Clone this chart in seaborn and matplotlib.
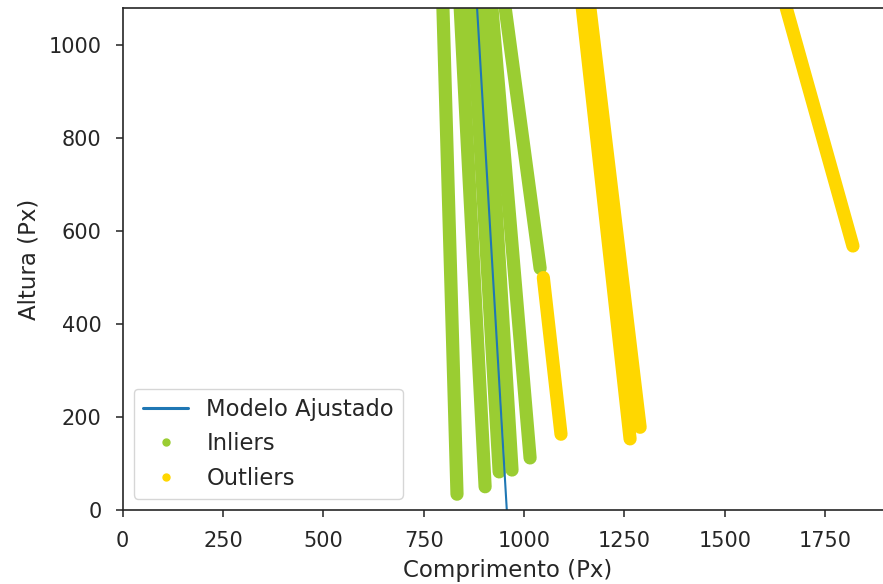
import matplotlib.pyplot as plt
from matplotlib.lines import Line2D
import seaborn as sns
import pandas as pd

# segmentos das faixas (ponto inicial -> ponto final), em pixels da imagem
inlier_x0 = [798, 841, 871, 900, 920, 953]
inlier_y0 = [1080, 1080, 1080, 1080, 1080, 1080]
inlier_x1 = [833, 903, 938, 970, 1015, 1040]
inlier_y1 = [34, 50, 82, 86, 112, 520]

outlier_x0 = [1048, 1145, 1164, 1653]
outlier_y0 = [500, 1080, 1080, 1080]
outlier_x1 = [1092, 1264, 1289, 1819]
outlier_y1 = [163, 153, 178, 568]

# modelo ajustado (RANSAC)
model_x = [883, 957]
model_y = [1080, 0]

rows = []
seg = 0
for nome, xs0, ys0, xs1, ys1 in [('Inliers', inlier_x0, inlier_y0, inlier_x1, inlier_y1),
                                 ('Outliers', outlier_x0, outlier_y0, outlier_x1, outlier_y1)]:
    for a, b, c, d in zip(xs0, ys0, xs1, ys1):
        rows.append({'x': a, 'y': b, 'seg': seg, 'grupo': nome})
        rows.append({'x': c, 'y': d, 'seg': seg, 'grupo': nome})
        seg += 1
df = pd.DataFrame(rows)

sns.set_style('ticks')
plt.rcParams['font.family'] = ['DejaVu Sans']
plt.rcParams['axes.linewidth'] = 1.2

fig = plt.figure(figsize=(8.83, 5.84), dpi=100)
ax = fig.add_axes([122.5 / 883, 74 / 584, 771 / 883, 502 / 584])

sns.lineplot(data=df, x='x', y='y', hue='grupo', units='seg', estimator=None, sort=False,
             palette={'Inliers': 'yellowgreen', 'Outliers': 'gold'},
             linewidth=9.5, solid_capstyle='round', legend=False, ax=ax)
sns.lineplot(x=model_x, y=model_y, sort=False, estimator=None, color='#1f77b4', linewidth=1.5, ax=ax)

ax.set_xlim(0, 1920)
ax.set_ylim(0, 1080)
ax.set_xticks([0, 250, 500, 750, 1000, 1250, 1500, 1750])
ax.set_yticks([0, 200, 400, 600, 800, 1000])
ax.tick_params(labelsize=15, length=5, width=1.1, pad=10, color='#222222')
ax.set_xlabel('Comprimento (Px)', fontsize=16.5, labelpad=6)
ax.set_ylabel('Altura (Px)', fontsize=16.5, labelpad=6)

handles = [Line2D([], [], color='#1f77b4', linewidth=2.2),
           Line2D([], [], color='yellowgreen', marker='o', markersize=5, linestyle='none'),
           Line2D([], [], color='gold', marker='o', markersize=5, linestyle='none')]
ax.legend(handles, ['Modelo Ajustado', 'Inliers', 'Outliers'], loc='lower left', fontsize=16.3,
          framealpha=0.8, edgecolor='0.8')

fig.savefig('out.png', dpi=100)
